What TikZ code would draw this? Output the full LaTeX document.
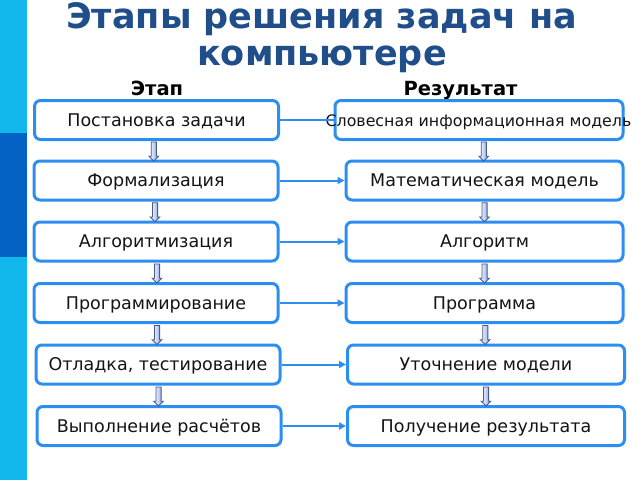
\documentclass[tikz,border=0pt]{standalone}
\usepackage{fontspec}
\setmainfont{DejaVu Sans}
\usetikzlibrary{shapes.arrows,arrows.meta,calc}
\definecolor{boxblue}{RGB}{45,142,242}
\definecolor{titleblue}{RGB}{31,78,138}
\definecolor{barcyan}{RGB}{18,184,236}
\definecolor{bardark}{RGB}{5,98,197}
\definecolor{arrowedge}{RGB}{70,90,140}
\definecolor{arrowfill}{RGB}{130,160,230}
\tikzset{
  stagebox/.style={draw=boxblue, line width=3pt, rounded corners=6pt, fill=white,
    minimum height=39pt, inner sep=0pt, text=black!92, font=\fontsize{17.5}{20}\selectfont,
    text height=12.2pt, text depth=0pt},
  leftbox/.style={stagebox, minimum width=244pt},
  rightbox/.style={stagebox, minimum width=277pt},
  link/.style={draw=boxblue, line width=2pt},
  linkarrow/.style={link, -{Triangle[length=7pt,width=7pt]}},
  downarrow/.style={single arrow, shape border rotate=270, draw=arrowedge, line width=0.8pt,
    left color=white, right color=arrowfill, inner sep=2.2pt,
    single arrow head extend=2.2pt, minimum height=19pt, single arrow tip angle=90},
  header/.style={font=\bfseries\fontsize{19.5}{22}\selectfont, text=black, anchor=base, inner sep=0pt},
  titletext/.style={font=\bfseries\fontsize{35}{37}\selectfont, text=titleblue, anchor=base, inner sep=0pt}
}
\begin{document}
\begin{tikzpicture}[x=1pt,y=-1pt]
\useasboundingbox (0,0) rectangle (640,480);
\fill[white] (0,0) rectangle (640,480);
% left bar
\fill[barcyan] (0,0) rectangle (27,480);
\fill[bardark] (0,133) rectangle (27,257);
% title
\node[titletext] (title1) at (321.5,28) {Этапы решения задач на};
\node[titletext] (title2) at (322,65) {компьютере};
\node[header] (h1) at (157,95) {Этап};
\node[header] (h2) at (460.5,95) {Результат};
% left boxes
\node[leftbox] (l1) at (156.5,120) {Постановка задачи};
\node[leftbox] (l2) at (156,180.5) {Формализация};
\node[leftbox] (l3) at (156,241.5) {Алгоритмизация};
\node[leftbox] (l4) at (156,303) {Программирование};
\node[leftbox] (l5) at (158,364.5) {Отладка, тестирование};
\node[leftbox] (l6) at (159,426) {Выполнение расчётов};
% right boxes
\node[stagebox, minimum width=288pt] (r1) at (479,120) {};
\node[font=\fontsize{15.8}{18}\selectfont, text=black!92, inner sep=0pt, text height=11pt, text depth=0pt] (r1t) at (478.5,121) {Словесная информационная модель};
\node[rightbox] (r2) at (484.5,180.5) {Математическая модель};
\node[rightbox] (r3) at (484.5,241.5) {Алгоритм};
\node[rightbox] (r4) at (484.5,303) {Программа};
\node[rightbox] (r5) at (486,364.5) {Уточнение модели};
\node[rightbox] (r6) at (486,426) {Получение результата};
% links
\draw[link] (l1.east) -- (r1.west);
\foreach \i in {2,...,6}{\draw[linkarrow] (l\i.east) -- (r\i.west);}
% down arrows
\foreach \a/\b/\s in {l1/l2/-2.5, l2/l3/-1, l3/l4/1, l4/l5/0, l5/l6/0,
                      r1/r2/2, r2/r3/0, r3/r4/0, r4/r5/0, r5/r6/0}{
  \node[downarrow, xshift=\s pt] (d\a) at ($(\a.south)!0.5!(\b.north)$) {};
}
\end{tikzpicture}
\end{document}
